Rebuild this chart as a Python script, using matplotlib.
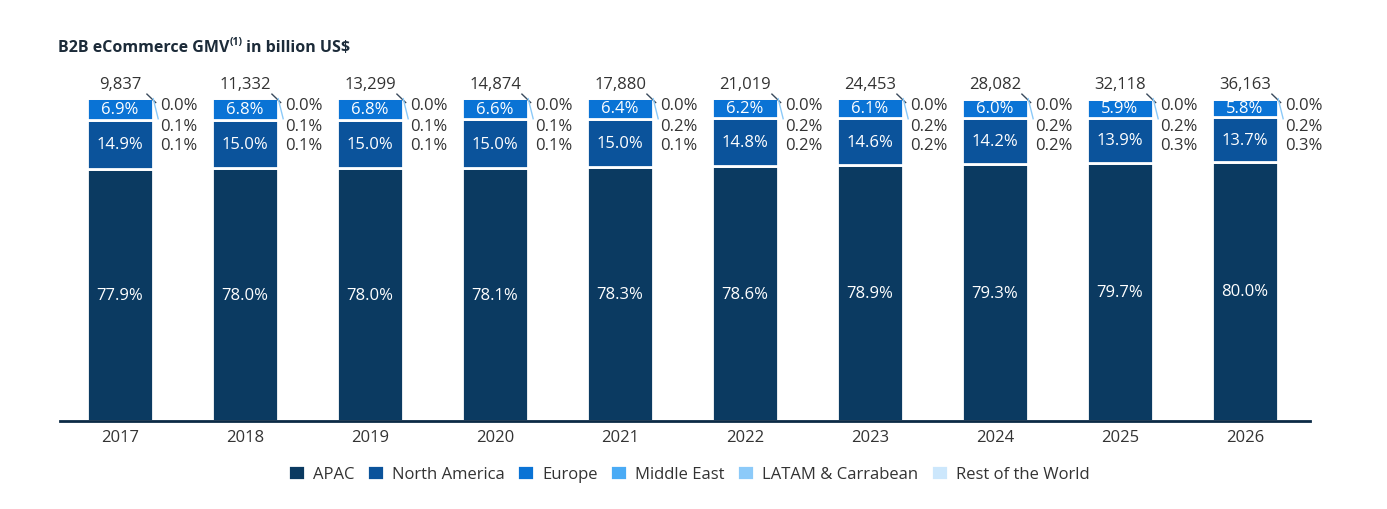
import numpy as np
import matplotlib.pyplot as plt

years = ["2017", "2018", "2019", "2020", "2021", "2022", "2023", "2024", "2025", "2026"]
totals = ["9,837", "11,332", "13,299", "14,874", "17,880", "21,019", "24,453", "28,082", "32,118", "36,163"]
regions = ["APAC", "North America", "Europe", "Middle East", "LATAM & Carrabean", "Rest of the World"]
apac = [77.9, 78.0, 78.0, 78.1, 78.3, 78.6, 78.9, 79.3, 79.7, 80.0]
north_america = [14.9, 15.0, 15.0, 15.0, 15.0, 14.8, 14.6, 14.2, 13.9, 13.7]
europe = [6.9, 6.8, 6.8, 6.6, 6.4, 6.2, 6.1, 6.0, 5.9, 5.8]
middle_east = [0.1, 0.1, 0.1, 0.1, 0.1, 0.2, 0.2, 0.2, 0.3, 0.3]
latam = [0.1, 0.1, 0.1, 0.1, 0.2, 0.2, 0.2, 0.2, 0.2, 0.2]
rest_world = [0.0, 0.0, 0.0, 0.0, 0.0, 0.0, 0.0, 0.0, 0.0, 0.0]

colors = ["#0b3a61", "#0b539b", "#0a73d5", "#4aabf5", "#8ccaf9", "#cce7fc"]
text_col = "#333333"

plt.rcParams["font.family"] = ["Open Sans", "DejaVu Sans"]


def main():
    fig = plt.figure(figsize=(13.87, 5.1), dpi=100)
    ax = fig.add_axes([0.0433, 0.1725, 0.9012, 0.6353])

    series = [apac, north_america, europe, middle_east, latam, rest_world]
    x = np.arange(len(years))
    w = 0.53
    bottom = np.zeros(len(years))
    for vals, col, name in zip(series, colors, regions):
        vals = np.array(vals)
        ax.bar(x, vals, w, bottom=bottom, color=col, edgecolor="white",
               linewidth=2, label=name, zorder=2)
        bottom += vals

    fs = 12
    # labels inside bars
    for i in range(len(years)):
        b = 0
        for vals in series[:3]:
            v = vals[i]
            ax.text(x[i], b + v / 2, f"{v:.1f}%", ha="center", va="center",
                    color="white", fontsize=fs, zorder=3)
            b += v
        ax.text(x[i], 101.5, totals[i], ha="center", va="bottom",
                color=text_col, fontsize=fs, clip_on=False)
        # small segment labels on the right
        xr = x[i] + 0.32
        ax.text(xr, 97.4, f"{rest_world[i]:.1f}%", ha="left", va="center",
                color=text_col, fontsize=fs, clip_on=False)
        ax.text(xr, 91.0, f"{latam[i]:.1f}%", ha="left", va="center",
                color=text_col, fontsize=fs, clip_on=False)
        ax.text(xr, 85.2, f"{middle_east[i]:.1f}%", ha="left", va="center",
                color=text_col, fontsize=fs, clip_on=False)
        # leader lines
        ax.plot([x[i] + 0.215, x[i] + 0.285], [100.9, 98.3], color="#3a4a5c",
                lw=1, clip_on=False, zorder=4)
        ax.plot([x[i] + 0.265, x[i] + 0.305], [99.5, 93.3], color="#8ccaf9",
                lw=1, clip_on=False, zorder=4)

    ax.set_xlim(-0.48, 9.52)
    ax.set_ylim(0, 100)
    ax.set_xticks(x)
    ax.set_xticklabels(years, fontsize=fs, color=text_col)
    ax.tick_params(axis="x", length=0, pad=6)
    ax.set_yticks([])
    for s in ["top", "right", "left"]:
        ax.spines[s].set_visible(False)
    ax.spines["bottom"].set_color("#0b2a45")
    ax.spines["bottom"].set_linewidth(2)

    ax.legend(loc="upper center", bbox_to_anchor=(0.503, -0.09), ncol=6,
              frameon=False, fontsize=fs, handlelength=1.0, handleheight=1.0,
              handletextpad=0.5, columnspacing=0.75, labelcolor=text_col)

    # title with superscript
    t1 = fig.text(58 / 1387, 1 - 52 / 510, "B2B eCommerce GMV", fontsize=11.5,
                  fontweight="bold", color="#1c2b39", va="baseline")
    t2 = ax.annotate("(1)", xy=(1, 0.5), xycoords=t1, fontsize=7.5,
                     fontweight="bold", color="#1c2b39", va="bottom",
                     annotation_clip=False)
    ax.annotate(" in billion US$", xy=(1, 0), xycoords=(t2, t1), fontsize=11.5,
                fontweight="bold", color="#1c2b39", va="bottom",
                annotation_clip=False)

    fig.savefig("out.png", dpi=100)


if __name__ == "__main__":
    main()
